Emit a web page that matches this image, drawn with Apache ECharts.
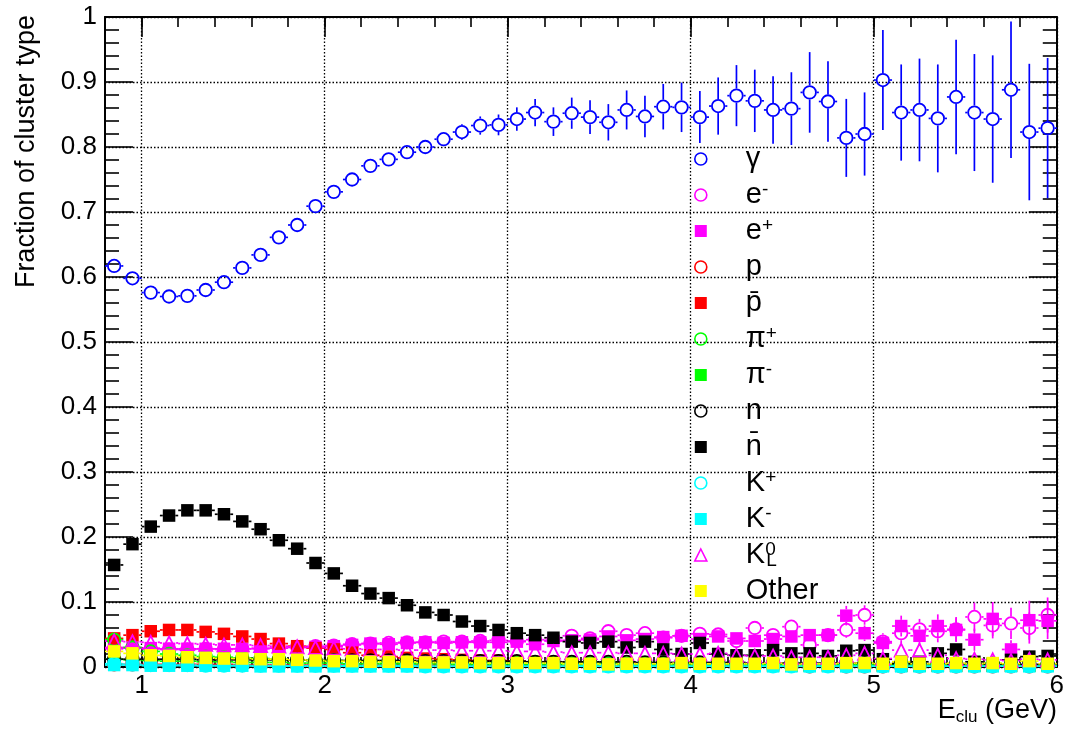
<!DOCTYPE html>
<html>
<head>
<meta charset="utf-8">
<script src="https://cdn.jsdelivr.net/npm/echarts@6/dist/echarts.min.js"></script>
<style>html,body{margin:0;padding:0;background:#fff;}#chart{width:1067px;height:729px;}</style>
</head>
<body>
<div id="chart"></div>
<script>
// ---------- data ----------
const binCenters = [0.85,0.95,1.05,1.15,1.25,1.35,1.45,1.55,1.65,1.75,1.85,1.95,
  2.05,2.15,2.25,2.35,2.45,2.55,2.65,2.75,2.85,2.95,
  3.05,3.15,3.25,3.35,3.45,3.55,3.65,3.75,3.85,3.95,
  4.05,4.15,4.25,4.35,4.45,4.55,4.65,4.75,4.85,4.95,
  5.05,5.15,5.25,5.35,5.45,5.55,5.65,5.75,5.85,5.95];
const binHalfWidth = 0.05;
const xTickValues = [1, 2, 3, 4, 5, 6];

const gammaFrac = [0.617,0.598,0.576,0.570,0.571,0.580,0.592,0.614,0.634,0.661,0.680,0.709,
  0.731,0.750,0.771,0.781,0.792,0.800,0.812,0.823,0.833,0.834,
  0.843,0.853,0.839,0.852,0.846,0.838,0.857,0.847,0.862,0.861,
  0.846,0.863,0.879,0.871,0.857,0.859,0.884,0.870,0.814,0.820,
  0.903,0.853,0.857,0.844,0.877,0.853,0.843,0.888,0.823,0.829];
const gammaErr = [0.003,0.003,0.003,0.003,0.003,0.003,0.003,0.004,0.004,0.004,0.004,0.005,
  0.005,0.006,0.007,0.008,0.009,0.010,0.011,0.012,0.014,0.016,
  0.018,0.021,0.022,0.024,0.026,0.028,0.030,0.032,0.035,0.038,
  0.040,0.044,0.047,0.048,0.052,0.056,0.062,0.062,0.060,0.064,
  0.077,0.074,0.079,0.083,0.088,0.090,0.098,0.105,0.105,0.108];

const eMinusFrac = [0.028,0.029,0.028,0.027,0.027,0.028,0.027,0.028,0.029,0.029,0.031,0.032,
  0.033,0.035,0.036,0.037,0.038,0.038,0.039,0.039,0.040,0.041,
  0.040,0.042,0.041,0.048,0.044,0.055,0.049,0.052,0.045,0.048,
  0.051,0.050,0.040,0.060,0.049,0.062,0.034,0.049,0.057,0.080,
  0.039,0.052,0.058,0.055,0.058,0.077,0.064,0.067,0.060,0.080];
const eMinusErr = [0.001,0.001,0.001,0.001,0.001,0.001,0.001,0.001,0.001,0.001,0.001,0.001,
  0.002,0.002,0.002,0.002,0.002,0.002,0.002,0.002,0.003,0.003,
  0.003,0.003,0.004,0.004,0.004,0.005,0.005,0.005,0.006,0.006,
  0.007,0.007,0.007,0.008,0.008,0.009,0.009,0.010,0.012,0.015,
  0.013,0.015,0.016,0.017,0.019,0.022,0.020,0.024,0.024,0.027];

const ePlusFrac = [0.030,0.030,0.029,0.028,0.028,0.028,0.028,0.028,0.028,0.029,0.030,0.031,
  0.032,0.034,0.036,0.035,0.037,0.038,0.037,0.038,0.038,0.038,
  0.039,0.035,0.040,0.041,0.042,0.047,0.041,0.043,0.046,0.048,
  0.043,0.047,0.044,0.040,0.043,0.047,0.049,0.049,0.079,0.052,
  0.037,0.063,0.048,0.063,0.057,0.042,0.074,0.027,0.072,0.071];
const ePlusErr = [0.001,0.001,0.001,0.001,0.001,0.001,0.001,0.001,0.001,0.001,0.001,0.001,
  0.002,0.002,0.002,0.002,0.002,0.002,0.002,0.002,0.003,0.003,
  0.003,0.003,0.004,0.004,0.004,0.005,0.005,0.005,0.006,0.006,
  0.007,0.007,0.007,0.008,0.008,0.009,0.009,0.010,0.015,0.012,
  0.012,0.016,0.015,0.018,0.018,0.017,0.026,0.014,0.030,0.028];

const pFrac = [0.004,0.004,0.004,0.004,0.004,0.004,0.004,0.003,0.003,0.003,0.003,0.003,
  0.003,0.003,0.003,0.003,0.003,0.003,0.003,0.002,0.002,0.002,
  0.002,0.002,0.002,0.002,0.002,0.002,0.002,0.002,0.002,0.002,
  0.002,0.002,0.002,0.002,0.002,0.002,0.001,0.002,0.001,0.001,
  0.001,0.001,0.001,0.001,0.001,0.001,0.001,0.001,0.001,0.001];
const pbarFrac = [0.044,0.049,0.055,0.057,0.057,0.054,0.051,0.047,0.043,0.036,0.032,0.029,
  0.027,0.022,0.018,0.016,0.014,0.013,0.012,0.011,0.010,0.010,
  0.009,0.008,0.008,0.007,0.007,0.006,0.006,0.006,0.005,0.005,
  0.005,0.004,0.004,0.004,0.004,0.003,0.003,0.003,0.003,0.002,
  0.003,0.002,0.002,0.002,0.002,0.002,0.002,0.002,0.002,0.003];
const piPlusFrac = [0.042,0.030,0.024,0.020,0.018,0.016,0.015,0.014,0.013,0.012,0.011,0.010,
  0.010,0.009,0.009,0.008,0.008,0.008,0.007,0.007,0.007,0.007,
  0.006,0.006,0.006,0.006,0.006,0.006,0.005,0.005,0.005,0.005,
  0.005,0.005,0.005,0.004,0.004,0.004,0.004,0.004,0.004,0.004,
  0.004,0.004,0.003,0.004,0.003,0.003,0.004,0.003,0.003,0.003];
const piMinusFrac = [0.012,0.011,0.010,0.009,0.009,0.008,0.008,0.007,0.007,0.007,0.006,0.006,
  0.006,0.005,0.005,0.005,0.005,0.005,0.004,0.004,0.004,0.004,
  0.004,0.004,0.004,0.003,0.003,0.003,0.003,0.003,0.003,0.003,
  0.003,0.003,0.003,0.003,0.002,0.002,0.002,0.002,0.002,0.002,
  0.002,0.002,0.002,0.002,0.002,0.002,0.002,0.002,0.002,0.002];
const nFrac = [0.012,0.012,0.012,0.012,0.012,0.011,0.011,0.011,0.011,0.011,0.011,0.010,
  0.010,0.010,0.010,0.010,0.010,0.009,0.009,0.009,0.009,0.009,
  0.009,0.008,0.008,0.008,0.008,0.008,0.008,0.007,0.007,0.007,
  0.007,0.007,0.007,0.006,0.006,0.006,0.006,0.006,0.006,0.006,
  0.005,0.005,0.005,0.005,0.005,0.005,0.005,0.004,0.004,0.004];
const nbarFrac = [0.157,0.189,0.216,0.233,0.241,0.241,0.235,0.224,0.212,0.195,0.182,0.160,
  0.144,0.125,0.113,0.106,0.095,0.084,0.080,0.070,0.063,0.057,
  0.052,0.049,0.045,0.039,0.037,0.039,0.030,0.039,0.027,0.020,
  0.037,0.020,0.018,0.018,0.026,0.021,0.021,0.017,0.025,0.026,
  0.012,0.008,0.008,0.021,0.027,0.008,0.005,0.011,0.016,0.017];
const nbarErr = [0.002,0.002,0.002,0.002,0.002,0.002,0.002,0.002,0.002,0.002,0.002,0.002,
  0.002,0.002,0.002,0.002,0.002,0.002,0.002,0.002,0.002,0.002,
  0.003,0.003,0.003,0.003,0.003,0.003,0.003,0.003,0.003,0.003,
  0.004,0.004,0.004,0.004,0.005,0.005,0.005,0.005,0.006,0.006,
  0.006,0.005,0.005,0.007,0.009,0.005,0.004,0.006,0.007,0.007];
const kPlusFrac = [0.005,0.004,0.003,0.003,0.003,0.002,0.002,0.002,0.002,0.002,0.002,0.002,
  0.002,0.002,0.002,0.002,0.002,0.001,0.001,0.001,0.001,0.001,
  0.001,0.001,0.001,0.001,0.001,0.001,0.001,0.001,0.001,0.001,
  0.001,0.001,0.001,0.001,0.001,0.001,0.001,0.001,0.001,0.001,
  0.001,0.001,0.001,0.001,0.001,0.001,0.001,0.001,0.001,0.001];
const kMinusFrac = [0.003,0.003,0.002,0.002,0.002,0.002,0.002,0.002,0.001,0.001,0.001,0.001,
  0.001,0.001,0.001,0.001,0.001,0.001,0.001,0.001,0.001,0.001,
  0.001,0.001,0.001,0.001,0.001,0.001,0.001,0.001,0.001,0.001,
  0.001,0.001,0.001,0.001,0.001,0.001,0.001,0.001,0.001,0.001,
  0.001,0.001,0.001,0.001,0.001,0.001,0.001,0.001,0.001,0.001];
const k0LFrac = [0.040,0.039,0.038,0.037,0.036,0.035,0.034,0.034,0.033,0.032,0.031,0.030,
  0.029,0.028,0.027,0.027,0.026,0.026,0.026,0.025,0.025,0.025,
  0.024,0.024,0.023,0.022,0.022,0.022,0.021,0.021,0.021,0.020,
  0.020,0.021,0.018,0.017,0.017,0.015,0.015,0.015,0.018,0.021,
  0.013,0.026,0.026,0.018,0.013,0.012,0.011,0.010,0.012,0.011];
const k0LErr = [0.001,0.001,0.001,0.001,0.001,0.001,0.001,0.001,0.001,0.001,0.001,0.001,
  0.002,0.002,0.002,0.002,0.002,0.002,0.002,0.002,0.002,0.002,
  0.003,0.003,0.003,0.003,0.003,0.003,0.003,0.003,0.004,0.004,
  0.004,0.004,0.004,0.005,0.005,0.005,0.005,0.006,0.006,0.006,
  0.006,0.009,0.009,0.007,0.006,0.006,0.006,0.006,0.007,0.007];
const otherFrac = [0.024,0.021,0.018,0.017,0.015,0.014,0.013,0.013,0.012,0.012,0.011,0.010,
  0.009,0.009,0.008,0.008,0.008,0.007,0.007,0.007,0.006,0.006,
  0.006,0.006,0.006,0.005,0.005,0.004,0.005,0.005,0.005,0.006,
  0.005,0.005,0.005,0.005,0.006,0.004,0.005,0.005,0.006,0.006,
  0.005,0.008,0.005,0.005,0.006,0.005,0.006,0.005,0.009,0.005];
const smallErr = [0.001,0.001,0.001,0.001,0.001,0.001,0.001,0.001,0.001,0.001,0.001,0.001,
  0.001,0.001,0.001,0.001,0.001,0.001,0.001,0.001,0.001,0.001,
  0.002,0.002,0.002,0.002,0.002,0.002,0.002,0.002,0.002,0.002,
  0.002,0.002,0.002,0.002,0.003,0.003,0.003,0.003,0.003,0.003,
  0.003,0.003,0.003,0.004,0.004,0.004,0.004,0.004,0.004,0.004];

// legend labels (rich text)
const legendLabels = {
  'gamma': 'γ', 'eminus': 'e{sup|-}', 'eplus': 'e{sup|+}', 'p': 'p', 'pbar': 'p\u0304',
  'piplus': 'π{sup|+}', 'piminus': 'π{sup|-}', 'n': 'n', 'nbar': 'n\u0304',
  'kplus': 'K{sup|+}', 'kminus': 'K{sup|-}', 'k0l': 'K{supz|0}{sub|L}', 'other': 'Other'
};

// ---------- build series ----------
const species = [
  {key:'gamma',   color:'#0000ff', open:true,  symbol:'circle',   values:gammaFrac,   errors:gammaErr},
  {key:'eminus',  color:'#ff00ff', open:true,  symbol:'circle',   values:eMinusFrac,  errors:eMinusErr},
  {key:'eplus',   color:'#ff00ff', open:false, symbol:'rect',     values:ePlusFrac,   errors:ePlusErr},
  {key:'p',       color:'#ff0000', open:true,  symbol:'circle',   values:pFrac,       errors:smallErr},
  {key:'pbar',    color:'#ff0000', open:false, symbol:'rect',     values:pbarFrac,    errors:smallErr},
  {key:'piplus',  color:'#00ff00', open:true,  symbol:'circle',   values:piPlusFrac,  errors:smallErr},
  {key:'piminus', color:'#00ff00', open:false, symbol:'rect',     values:piMinusFrac, errors:smallErr},
  {key:'n',       color:'#000000', open:true,  symbol:'circle',   values:nFrac,       errors:smallErr},
  {key:'nbar',    color:'#000000', open:false, symbol:'rect',     values:nbarFrac,    errors:nbarErr},
  {key:'kplus',   color:'#00ffff', open:true,  symbol:'circle',   values:kPlusFrac,   errors:smallErr},
  {key:'kminus',  color:'#00ffff', open:false, symbol:'rect',     values:kMinusFrac,  errors:smallErr},
  {key:'k0l',     color:'#ff00ff', open:true,  symbol:'triangle', values:k0LFrac,     errors:k0LErr},
  {key:'other',   color:'#ffff00', open:false, symbol:'rect',     values:otherFrac,   errors:smallErr}
];

const FONT = 'Liberation Sans';
const MARK = 12.5;

function makeErrRender(color, gap) {
  return function (params, api) {
    const x = api.value(0), y = api.value(1), e = api.value(2);
    const c = api.coord([x, y]);
    const yt = api.coord([x, y + e])[1];
    const yb = api.coord([x, y - e])[1];
    const xl = api.coord([x - binHalfWidth, y])[0];
    const xr = api.coord([x + binHalfWidth, y])[0];
    const st = {stroke: color, lineWidth: 1.7};
    const ch = [];
    if (c[1] - yt > gap) ch.push({type:'line', shape:{x1:c[0], y1:yt, x2:c[0], y2:c[1]-gap}, style:st});
    if (yb - c[1] > gap) ch.push({type:'line', shape:{x1:c[0], y1:c[1]+gap, x2:c[0], y2:yb}, style:st});
    ch.push({type:'line', shape:{x1:xl, y1:c[1], x2:c[0]-gap, y2:c[1]}, style:st});
    ch.push({type:'line', shape:{x1:c[0]+gap, y1:c[1], x2:xr, y2:c[1]}, style:st});
    return {type:'group', children:ch};
  };
}

const series = [];
species.forEach(function (s) {
  const gap = s.open ? MARK / 2 + 0.8 : MARK / 2;
  series.push({
    type:'custom', name: s.key + '_err', xAxisIndex:0, yAxisIndex:0, clip:true, silent:true,
    renderItem: makeErrRender(s.color, gap),
    encode: {x:0, y:1},
    data: binCenters.map(function (x, i) { return [x, s.values[i], s.errors[i]]; })
  });
  series.push({
    type:'scatter', name: s.key, xAxisIndex:0, yAxisIndex:0, silent:true,
    symbol: s.symbol, symbolSize: s.symbol === 'triangle' ? 13 : MARK,
    itemStyle: s.open ? {color:'rgba(0,0,0,0)', borderColor:s.color, borderWidth:1.8, opacity:1}
                      : {color:s.color, borderWidth:0, opacity:1},
    emphasis: {disabled:true},
    data: binCenters.map(function (x, i) { return [x, s.values[i]]; })
  });
});

const dotted = {color:'#000', width:1.3, type:[1.5, 2]};
const tickLine = {color:'#000', width:1.6};
const axisLine = {show:true, onZero:false, lineStyle:{color:'#000', width:2}};

const option = {
  animation:false,
  backgroundColor:'#fff',
  textStyle:{fontFamily:FONT},
  grid:{left:105, right:10, top:17, bottom:62, containLabel:false},
  xAxis:[
    {type:'value', position:'bottom', min:0.8, max:6,
     axisLine:axisLine,
     axisTick:{show:true, inside:true, length:20, lineStyle:tickLine, customValues:xTickValues},
     axisLabel:{show:true, customValues:xTickValues, margin:6, fontSize:26, color:'#000', fontFamily:FONT, showMaxLabel:true},
     splitLine:{show:true, lineStyle:dotted}},
    {type:'value', position:'bottom', min:0.8, max:6, interval:0.2,
     axisLine:{show:false, onZero:false},
     axisTick:{show:true, inside:true, length:10, lineStyle:tickLine},
     axisLabel:{show:false}, splitLine:{show:false}},
    {type:'value', position:'top', min:0.8, max:6,
     axisLine:axisLine,
     axisTick:{show:true, inside:true, length:20, lineStyle:tickLine, customValues:xTickValues},
     axisLabel:{show:false}, splitLine:{show:false}},
    {type:'value', position:'top', min:0.8, max:6, interval:0.2,
     axisLine:{show:false, onZero:false},
     axisTick:{show:true, inside:true, length:10, lineStyle:tickLine},
     axisLabel:{show:false}, splitLine:{show:false}}
  ],
  yAxis:[
    {type:'value', position:'left', min:0, max:1, interval:0.1,
     axisLine:axisLine,
     axisTick:{show:true, inside:true, length:28, lineStyle:tickLine},
     minorTick:{show:true, splitNumber:5, length:14, lineStyle:tickLine},
     axisLabel:{show:true, margin:8, fontSize:26, color:'#000', fontFamily:FONT, showMinLabel:true, showMaxLabel:true},
     splitLine:{show:true, lineStyle:dotted}},
    {type:'value', position:'right', min:0, max:1, interval:0.1,
     axisLine:axisLine,
     axisTick:{show:true, inside:true, length:28, lineStyle:tickLine},
     minorTick:{show:true, splitNumber:5, length:14, lineStyle:tickLine},
     axisLabel:{show:false}, splitLine:{show:false}}
  ],
  legend:{
    show:true, orient:'vertical', left:694, top:144, padding:0,
    itemWidth:12, itemHeight:12, itemGap:6, selectedMode:false,
    data: species.map(function (s) {
      return {name:s.key, icon:s.symbol,
        itemStyle: s.open ? {color:'rgba(0,0,0,0)', borderColor:s.color, borderWidth:1.6}
                          : {color:s.color, borderWidth:0}};
    }),
    formatter: function (name) { return legendLabels[name]; },
    textStyle:{fontFamily:FONT, fontSize:29, color:'#000', lineHeight:30, padding:[0,0,0,34],
      rich:{
        sup:{fontFamily:FONT, fontSize:19, color:'#000', lineHeight:13, verticalAlign:'top'},
        supz:{fontFamily:FONT, fontSize:19, color:'#000', lineHeight:13, verticalAlign:'top', width:1},
        sub:{fontFamily:FONT, fontSize:19, color:'#000', lineHeight:13, verticalAlign:'bottom'}
      }}
  },
  graphic:[
    {type:'text', x:27, y:15, rotation:Math.PI/2, silent:true,
     style:{text:'Fraction of cluster type', fontFamily:FONT, fontSize:27, fill:'#000',
            align:'right', verticalAlign:'middle', textAlign:'right', textVerticalAlign:'middle'}},
    {type:'text', x:1057, y:711, silent:true,
     style:{text:'{b|E}{s|clu}{b| (GeV)}', fill:'#000',
            align:'right', verticalAlign:'middle', textAlign:'right', textVerticalAlign:'middle',
            rich:{b:{fontFamily:FONT, fontSize:27, fill:'#000', lineHeight:30},
                  s:{fontFamily:FONT, fontSize:17, fill:'#000', lineHeight:12, verticalAlign:'bottom'}}}}
  ],
  series: series
};

const chart = echarts.init(document.getElementById('chart'), null, {renderer:'canvas'});
chart.setOption(option);
</script>
</body>
</html>
